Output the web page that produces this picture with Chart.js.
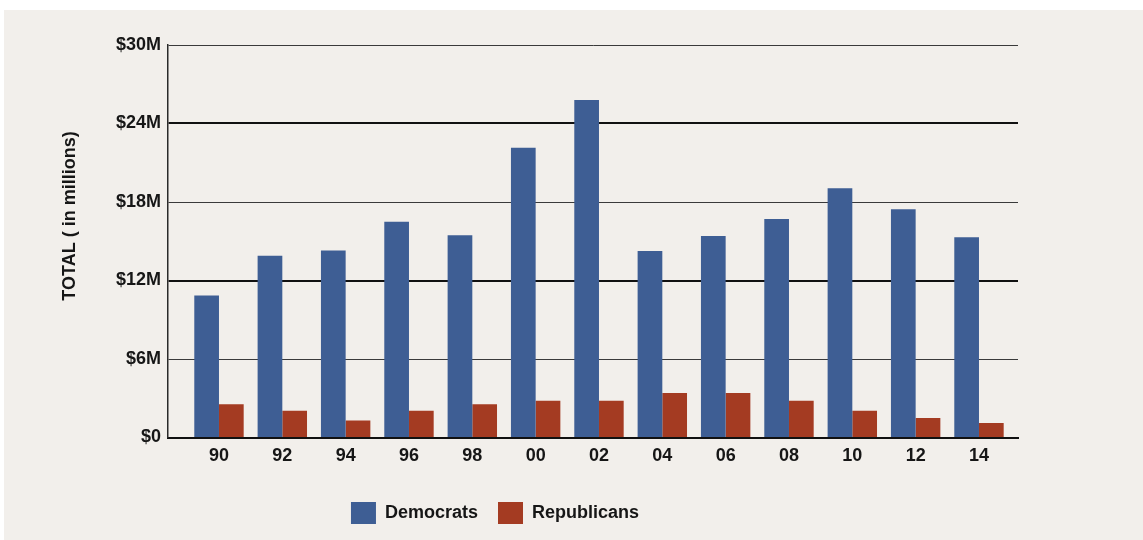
<!DOCTYPE html>
<html><head><meta charset="utf-8">
<script src="https://cdn.jsdelivr.net/npm/chart.js@4"></script>
<style>
html,body{margin:0;padding:0;background:#fff;width:1143px;height:540px;overflow:hidden}
#panel{position:absolute;left:4px;top:10px;width:1139px;height:530px;background:#f2efeb}
canvas{position:absolute;left:0;top:0}
</style></head><body>
<div id="panel"></div>
<canvas id="c" width="1143" height="540"></canvas>
<script>
const categories = ['90','92','94','96','98','00','02','04','06','08','10','12','14'];
const democrats = [10.85, 13.9, 14.3, 16.5, 15.45, 22.15, 25.8, 14.25, 15.4, 16.7, 19.05, 17.45, 15.3];
const republicans = [2.55, 2.05, 1.3, 2.05, 2.55, 2.8, 2.8, 3.4, 3.4, 2.8, 2.05, 1.5, 1.1];
const yTickValues = [0, 6, 12, 18, 24, 30];
const yTickLabels = ['$0', '$6M', '$12M', '$18M', '$24M', '$30M'];
const seriesNames = ['Democrats', 'Republicans'];
const yTitle = 'TOTAL ( in millions)';

const FONT = '"Liberation Sans", Arial, sans-serif';
const TXT = '#161616';

const yTitlePlugin = {
  id: 'yTitle',
  afterDraw(chart) {
    const ctx = chart.ctx;
    ctx.save();
    ctx.translate(70, 216);
    ctx.rotate(-Math.PI / 2);
    ctx.font = 'bold 18px ' + FONT;
    ctx.fillStyle = TXT;
    ctx.textAlign = 'center';
    ctx.textBaseline = 'middle';
    ctx.fillText(yTitle, 0, 0);
    ctx.restore();
  }
};

new Chart(document.getElementById('c'), {
  type: 'bar',
  data: {
    datasets: [
      { label: seriesNames[0], data: democrats.map((v, i) => ({x: i, y: v})), backgroundColor: '#3e5e94' },
      { label: seriesNames[1], data: republicans.map((v, i) => ({x: i, y: v})), backgroundColor: '#a43b22' }
    ]
  },
  options: {
    responsive: false,
    devicePixelRatio: 1,
    animation: false,
    layout: { padding: { top: 45, right: 125, bottom: 6, left: -28 } },
    datasets: { bar: { categoryPercentage: 0.78, barPercentage: 1.0 } },
    scales: {
      x: {
        type: 'linear',
        offset: false,
        min: -0.805,
        max: 12.616,
        afterBuildTicks: s => { s.ticks = categories.map((c, i) => ({value: i})); },
        afterFit: s => { s.height = 44.5; },
        grid: { display: false, drawTicks: false },
        border: { display: true, color: '#111', width: 2 },
        ticks: {
          autoSkip: false, maxRotation: 0, padding: 8,
          color: TXT, font: { family: FONT, size: 18, weight: 'bold' },
          callback: v => categories[v]
        }
      },
      y: {
        min: 0, max: 30,
        afterBuildTicks: s => { s.ticks = yTickValues.map(v => ({value: v})); },
        afterFit: s => { s.width = 196; },
        grid: {
          drawTicks: false,
          color: c => (c.tick && (c.tick.value === 12 || c.tick.value === 24)) ? '#111' : '#3a3a3a',
          lineWidth: c => (c.tick && (c.tick.value === 12 || c.tick.value === 24)) ? 2 : 1
        },
        border: { display: true, color: '#2a2a2a', width: 1.5 },
        ticks: {
          padding: 7, color: TXT, font: { family: FONT, size: 18, weight: 'bold' },
          callback: v => yTickLabels[yTickValues.indexOf(v)]
        }
      }
    },
    plugins: {
      tooltip: { enabled: false },
      legend: {
        position: 'bottom',
        labels: {
          boxWidth: 25, boxHeight: 22, padding: 20,
          color: TXT, font: { family: FONT, size: 18, weight: 'bold' }
        }
      }
    }
  },
  plugins: [yTitlePlugin]
});
</script></body></html>
